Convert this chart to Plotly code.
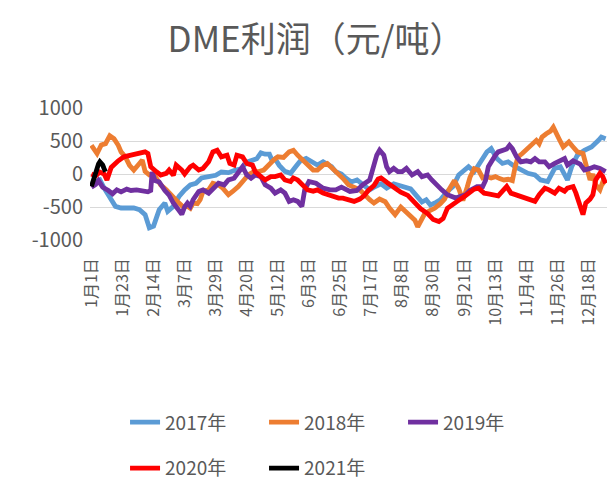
import plotly.graph_objects as go

# x axis: day of year (0 = 1月1日), labelled every 22 days
tick_labels = ["1月1日", "1月23日", "2月14日", "3月7日", "3月29日", "4月20日",
               "5月12日", "6月3日", "6月25日", "7月17日", "8月8日", "8月30日",
               "9月21日", "10月13日", "11月4日", "11月26日", "12月18日"]
y_ticks = [1000, 500, 0, -500, -1000]
y_tick_text = ["1000", "500", "0", "-500", "-1000"]

days_2017 = [0, 3, 6, 9, 13, 17, 21, 26, 30, 34, 38, 41, 44, 46, 48, 52, 54, 58, 62, 66,
             70, 74, 78, 83, 88, 92, 97, 102, 106, 110, 114, 117, 120, 123, 126, 128, 130, 133, 137, 141,
             145, 148, 152, 156, 160, 164, 166, 170, 173, 177, 180, 184, 188, 192, 197, 201, 205, 209, 214, 218,
             222, 226, 231, 234, 237, 240, 244, 247, 252, 256, 260, 264, 267, 271, 275, 280, 283, 285, 287, 291,
             295, 300, 304, 309, 314, 318, 323, 328, 332, 337, 340, 344, 349, 354, 359, 361, 364]
vals_2017 = [-150, -110, -90, -215, -340, -490, -515, -515, -515, -540, -615, -815, -790, -665, -540, -440, -565, -490, -340, -240,
             -165, -140, -60, -40, -20, 30, 20, 60, 80, 180, 200, 230, 320, 300, 300, 200, 230, 130, 40, 10,
             120, 200, 235, 185, 135, 185, 160, 110, 35, 0, -60, -120, -90, -150, -240, -190, -150, -215, -150, -175,
             -200, -225, -350, -425, -390, -470, -430, -390, -265, -190, -15, 60, 110, 35, 160, 335, 385, 310, 235, 160,
             185, 110, 60, 10, -15, -90, -115, 85, 110, -90, 110, 285, 360, 410, 510, 560, 535]

days_2018 = [0, 2, 4, 7, 10, 13, 16, 19, 21, 24, 27, 30, 32, 34, 36, 38, 41, 44, 46, 49,
             53, 56, 59, 62, 65, 68, 70, 72, 75, 77, 79, 83, 86, 90, 93, 97, 100, 104, 108, 111,
             115, 118, 122, 125, 129, 132, 136, 140, 143, 146, 150, 153, 157, 160, 164, 167, 171, 175, 178, 182,
             186, 190, 197, 200, 204, 208, 211, 215, 219, 222, 225, 229, 231, 233, 236, 240, 243, 247, 250, 253,
             257, 260, 263, 266, 268, 271, 274, 277, 280, 283, 286, 289, 292, 295, 298, 300, 302, 305, 309, 312,
             315, 317, 319, 322, 325, 327, 329, 331, 334, 336, 338, 341, 344, 348, 350, 353, 355, 357, 360, 362, 364]
vals_2018 = [435, 385, 310, 440, 460, 580, 535, 435, 335, 260, 130, 60, 100, 160, 210, 40, -15, 0, -65, -165,
             -240, -315, -390, -440, -500, -490, -520, -440, -450, -390, -265, -240, -140, -165, -215, -315, -265, -190, -90, -15,
             35, 35, 60, 135, 210, 260, 250, 335, 360, 285, 210, 135, 60, 60, 135, 160, 85, 10, -65, -165,
             -200, -240, -390, -440, -380, -420, -515, -615, -500, -560, -640, -700, -800, -720, -600, -550, -520, -450, -380, -240,
             -100, -220, -400, -200, -50, 80, 60, -60, -40, -60, -40, -70, -90, -80, -100, 110, 260, 310, 385, 460,
             510, 460, 560, 610, 650, 710, 610, 535, 410, 460, 485, 410, 335, 310, 160, -90, 0, -165, -240, -120, -150]

days_2019 = [0, 3, 5, 8, 12, 15, 18, 21, 25, 28, 32, 36, 40, 42, 43, 45, 48, 52, 55, 58,
             61, 64, 66, 68, 70, 72, 76, 79, 83, 86, 90, 94, 97, 101, 104, 107, 110, 113, 116, 120,
             123, 127, 130, 134, 137, 140, 143, 146, 149, 151, 154, 159, 164, 169, 173, 177, 183, 188, 192, 197,
             199, 202, 204, 207, 209, 211, 214, 217, 220, 223, 227, 231, 234, 238, 241, 245, 248, 252, 255, 258,
             261, 265, 268, 273, 277, 279, 281, 284, 286, 288, 291, 294, 296, 298, 301, 304, 308, 311, 314, 317,
             321, 324, 328, 331, 335, 337, 341, 346, 349, 353, 356, 360, 364]
vals_2019 = [-200, -160, -100, -200, -250, -300, -240, -270, -230, -250, -240, -260, -270, -250, 30, -100, -120, -250, -320, -440,
             -540, -610, -500, -440, -490, -390, -265, -240, -290, -215, -140, -165, -90, -65, 10, 110, -15, -65, -15, -40,
             -165, -215, -290, -240, -290, -415, -390, -415, -490, -240, -115, -140, -215, -240, -240, -200, -265, -250, -165, -90,
             60, 285, 360, 285, 110, 35, 85, 35, 35, 85, -15, 35, -40, -15, -90, -190, -240, -315, -340, -365,
             -340, -315, -250, -190, -190, -100, 110, 235, 285, 335, 350, 380, 435, 385, 260, 185, 200, 185, 235, 185,
             185, 110, 160, 185, 235, 135, 200, 150, 60, 85, 110, 85, 35]

days_2020 = [0, 3, 6, 9, 11, 14, 19, 23, 28, 33, 38, 40, 42, 46, 49, 53, 55, 58, 60, 64,
             66, 70, 72, 76, 79, 83, 86, 89, 92, 96, 98, 101, 103, 107, 110, 114, 116, 120, 123, 127,
             130, 134, 137, 141, 143, 146, 150, 153, 157, 160, 164, 167, 171, 175, 178, 182, 186, 190, 193, 196,
             200, 203, 205, 209, 214, 219, 224, 228, 233, 238, 242, 246, 249, 252, 256, 260, 264, 267, 271, 274,
             278, 281, 285, 288, 291, 294, 297, 301, 304, 308, 311, 314, 317, 321, 324, 328, 331, 335, 337, 341,
             343, 346, 348, 350, 353, 355, 357, 360, 362, 364]
vals_2020 = [0, -30, 30, 0, -90, 100, 200, 260, 285, 310, 335, 310, 110, 35, -15, 10, 60, -20, 135, 60,
             0, 110, 135, 60, 85, 185, 335, 360, 260, 285, 160, 135, 285, 260, 160, 135, 35, -40, -90, -40,
             -40, -15, -90, -115, -60, -90, -165, -240, -260, -240, -290, -315, -340, -365, -365, -390, -415, -380, -330, -250,
             -175, -75, -60, -125, -200, -275, -325, -425, -525, -600, -690, -720, -675, -520, -450, -400, -340, -290, -230, -215,
             -290, -300, -315, -330, -260, -190, -290, -320, -340, -365, -390, -415, -315, -215, -240, -290, -215, -260, -215, -190,
             -290, -490, -615, -440, -380, -315, -90, 10, -40, -140]

days_2021 = [0, 1, 2, 3, 4, 5, 6, 7, 8, 9, 10]
vals_2021 = [-190, -120, -40, 60, 110, 150, 185, 160, 135, 80, 35]

series = [
    ("2017年", days_2017, vals_2017, "#5B9BD5", "legend"),
    ("2018年", days_2018, vals_2018, "#ED7D31", "legend"),
    ("2019年", days_2019, vals_2019, "#7030A0", "legend"),
    ("2020年", days_2020, vals_2020, "#FF0000", "legend2"),
    ("2021年", days_2021, vals_2021, "#000000", "legend2"),
]

FONT = "Noto Sans CJK SC"
GREY = "#595959"

fig = go.Figure()
for name, xs, ys, color, leg in series:
    fig.add_trace(go.Scatter(x=xs, y=ys, name=name, mode="lines",
                             line=dict(color=color, width=4.8), legend=leg))

# two legend rows, placed relative to the whole figure
legend_style = dict(orientation="h", xref="container", yref="container",
                    xanchor="left", yanchor="middle",
                    font=dict(family=FONT, size=19, color=GREY),
                    bgcolor="rgba(0,0,0,0)", entrywidth=94, entrywidthmode="pixels")

# the page body adds an 8px offset, so margins are shifted to compensate
fig.update_layout(
    width=616, height=488,
    margin=dict(l=82, r=17, t=100, b=256),
    paper_bgcolor="white", plot_bgcolor="white",
    font=dict(family=FONT, color=GREY),
    title=dict(text="DME利润（元/吨）", x=0.5, xref="container", xanchor="center",
               y=0.934, yref="container", yanchor="middle",
               font=dict(family=FONT, size=35, color=GREY)),
    legend=dict(x=0.19, y=0.151, **legend_style),
    legend2=dict(x=0.19, y=0.057, **legend_style),
)

fig.update_xaxes(range=[-1, 365], showgrid=False, zeroline=False, showline=False,
                 automargin=False,
                 tickvals=[i * 22 for i in range(len(tick_labels))], ticktext=tick_labels,
                 tickangle=-90, ticks="", ticklabelstandoff=14,
                 tickfont=dict(family=FONT, size=16, color=GREY))
fig.update_yaxes(range=[-1000, 1000], tickvals=y_ticks, ticktext=y_tick_text,
                 automargin=False,
                 showgrid=True, gridcolor="#D9D9D9", gridwidth=1.3,
                 zeroline=False, showline=False, ticks="", ticklabelstandoff=6,
                 tickfont=dict(family=FONT, size=20, color=GREY))

fig.write_html("out.html")
